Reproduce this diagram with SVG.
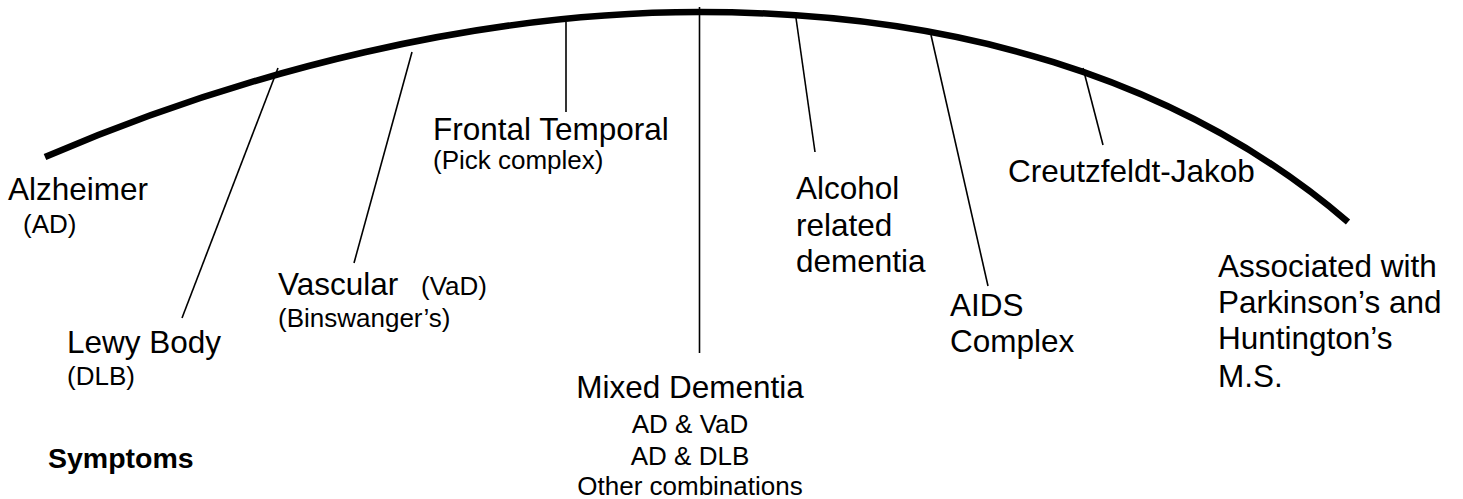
<svg xmlns="http://www.w3.org/2000/svg" width="1463" height="499" viewBox="0 0 1463 499">
<style>
text{font-family:"Liberation Sans",Arial,sans-serif;fill:#000}
.big{font-size:31.5px}
.small{font-size:26px}
.bold{font-size:28.5px;font-weight:bold}
.mid{text-anchor:middle}
.arc{fill:none;stroke:#000;stroke-width:6.5;stroke-linecap:butt}
.ln{stroke:#000;stroke-width:1.6;fill:none}
</style>
<rect width="1463" height="499" fill="#fff"/>
<g id="connectors">
<path class="arc" d="M45,157 C245,71 479,12 699,12 C949,12 1178,75.8 1348,222"/>
<line class="ln" x1="278" y1="68" x2="182" y2="318"/>
<line class="ln" x1="412" y1="52" x2="354" y2="263"/>
<line class="ln" x1="566" y1="22" x2="566" y2="112"/>
<line class="ln" x1="699.5" y1="7" x2="699.5" y2="353"/>
<line class="ln" x1="796" y1="18" x2="815" y2="152"/>
<line class="ln" x1="931" y1="35" x2="988" y2="286"/>
<line class="ln" x1="1083" y1="68" x2="1103" y2="145"/>
</g>
<g id="alzheimer">
<text class="big" x="8" y="200">Alzheimer</text>
<text class="small" x="23" y="233">(AD)</text>
</g>
<g id="lewy-body">
<text class="big" x="67" y="353">Lewy Body</text>
<text class="small" x="67" y="385">(DLB)</text>
</g>
<g id="vascular">
<text class="big" x="278" y="295">Vascular</text>
<text class="small" x="421" y="295">(VaD)</text>
<text class="small" x="278" y="327">(Binswanger’s)</text>
</g>
<g id="frontal-temporal">
<text class="big" x="433" y="140">Frontal Temporal</text>
<text class="small" x="433" y="169">(Pick complex)</text>
</g>
<g id="mixed-dementia">
<text class="big mid" x="690" y="398">Mixed Dementia</text>
<text class="small mid" x="690" y="433">AD &amp; VaD</text>
<text class="small mid" x="690" y="465">AD &amp; DLB</text>
<text class="small mid" x="690" y="495">Other combinations</text>
</g>
<g id="alcohol">
<text class="big" x="796" y="199">Alcohol</text>
<text class="big" x="796" y="236">related</text>
<text class="big" x="796" y="272">dementia</text>
</g>
<g id="aids">
<text class="big" x="950" y="316">AIDS</text>
<text class="big" x="950" y="352">Complex</text>
</g>
<g id="creutzfeldt-jakob">
<text class="big" x="1008" y="182">Creutzfeldt-Jakob</text>
</g>
<g id="associated">
<text class="big" x="1218" y="277">Associated with</text>
<text class="big" x="1218" y="313">Parkinson’s and</text>
<text class="big" x="1218" y="349">Huntington’s</text>
<text class="big" x="1218" y="387">M.S.</text>
</g>
<g id="symptoms">
<text class="bold" x="48" y="468">Symptoms</text>
</g>
</svg>
